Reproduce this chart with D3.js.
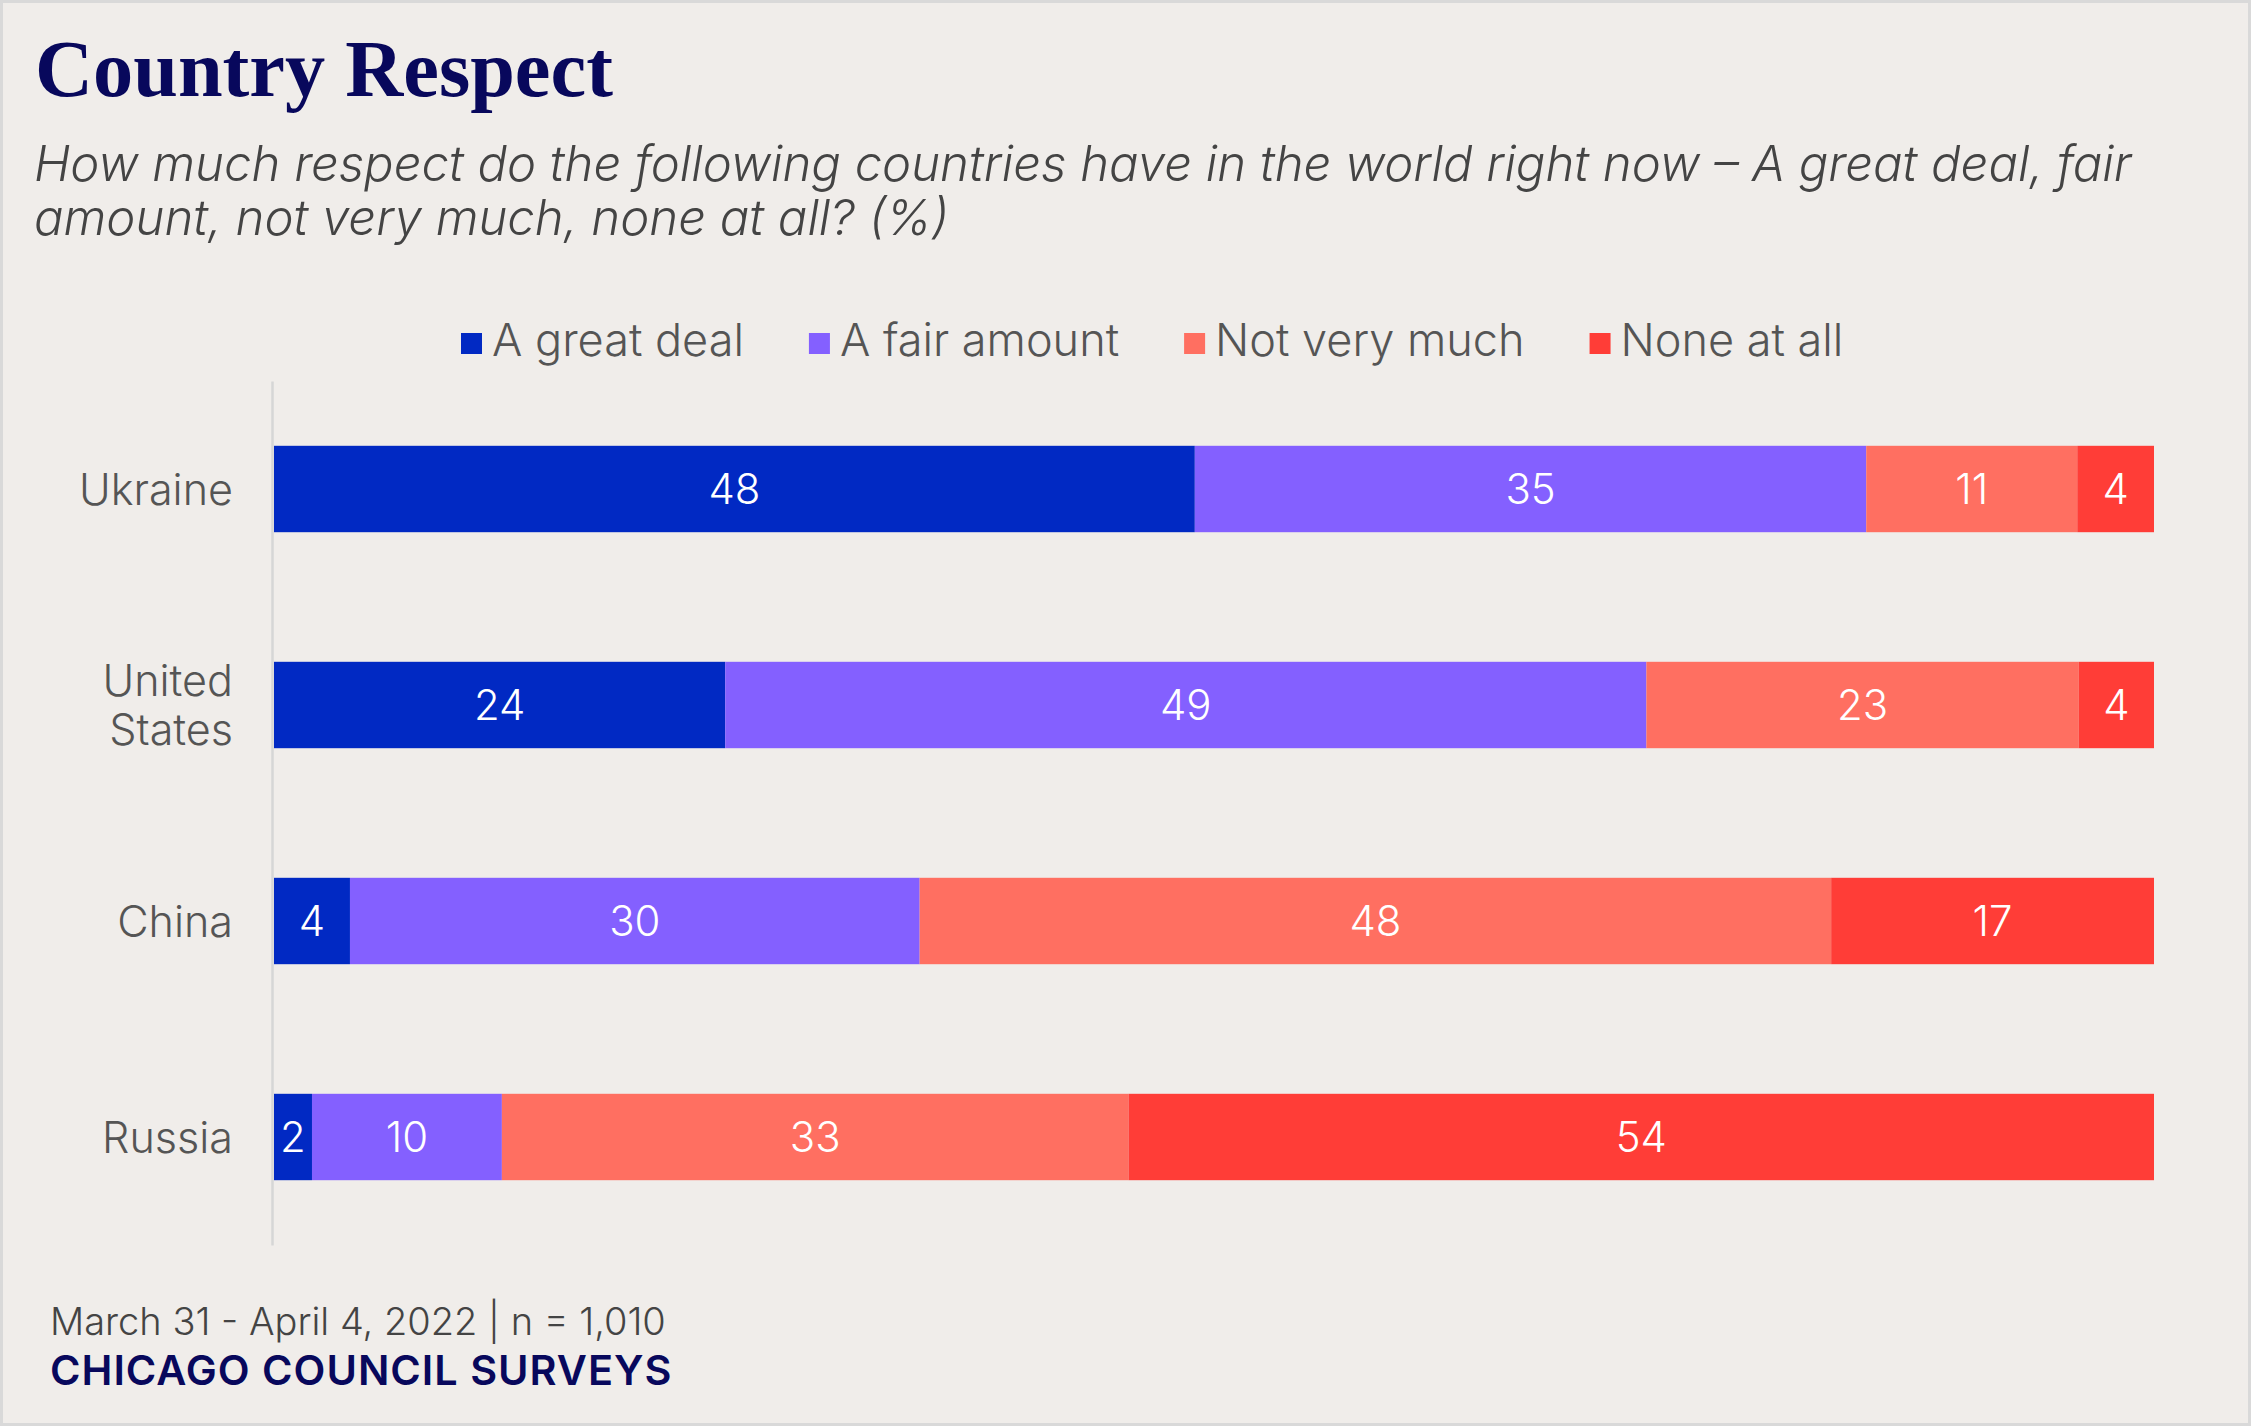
<!DOCTYPE html>
<html>
<head>
<meta charset="utf-8">
<script src="https://cdn.jsdelivr.net/npm/d3@7/dist/d3.min.js"></script>
<style>
  html, body { margin: 0; padding: 0; background: #f0edea; }
  svg { display: block; }
</style>
</head>
<body>
<svg id="chart" width="2251" height="1426"></svg>
<script>
// ---- Data ----
const categories = ["Ukraine", "United States", "China", "Russia"];
const seriesNames = ["A great deal", "A fair amount", "Not very much", "None at all"];
const greatDeal   = [48, 24, 4, 2];
const fairAmount  = [35, 49, 30, 10];
const notVeryMuch = [11, 23, 48, 33];
const noneAtAll   = [4, 4, 17, 54];
const seriesColors = ["#0129c3", "#8460ff", "#ff6f61", "#ff3d37"];

const titleText = "Country Respect";
const subtitleLines = [
  "How much respect do the following countries have in the world right now \u2013 A great deal, fair",
  "amount, not very much, none at all? (%)"
];
const noteText = "March 31 - April 4, 2022 | n = 1,010";
const sourceText = "CHICAGO COUNCIL SURVEYS";

// ---- Build table ----
const seriesValues = [greatDeal, fairAmount, notVeryMuch, noneAtAll];
const table = categories.map((c, i) => {
  const row = { category: c };
  seriesNames.forEach((s, j) => row[s] = seriesValues[j][i]);
  return row;
});

const W = 2251, H = 1426;
const svg = d3.select("#chart");
const SANS = "Inter, 'Open Sans', sans-serif";
const LIGHT = 300;

// background + border
svg.append("rect").attr("x", 1.5).attr("y", 1.5).attr("width", W - 3).attr("height", H - 3)
  .attr("fill", "#f0edea").attr("stroke", "#d9d9d9").attr("stroke-width", 3);

function fit(sel, target) {
  const fs = parseFloat(sel.attr("font-size"));
  const w = sel.node().getComputedTextLength();
  const nfs = fs * target / w;
  sel.attr("font-size", nfs);
  return nfs;
}

// Title
const title = svg.append("text").attr("x", 35).attr("y", 96)
  .attr("font-family", "'Liberation Serif', 'Times New Roman', serif")
  .attr("font-weight", 700).attr("font-size", 80).attr("fill", "#08085c")
  .text(titleText);
fit(title, 578);

// Subtitle
const sub1 = svg.append("text").attr("x", 34).attr("y", 181)
  .attr("font-family", SANS).attr("font-style", "italic").attr("font-weight", LIGHT)
  .attr("font-size", 44).attr("fill", "#444444").text(subtitleLines[0]);
const subFs = fit(sub1, 2098);
svg.append("text").attr("x", 34).attr("y", 235)
  .attr("font-family", SANS).attr("font-style", "italic").attr("font-weight", LIGHT)
  .attr("font-size", subFs).attr("fill", "#444444").text(subtitleLines[1]);

// Scales
const x = d3.scaleLinear().domain([0, 1]).range([274, 2154]);
const y = d3.scaleBand().domain(categories).range([381, 1245]).paddingInner(0.6).paddingOuter(0.3);
const color = d3.scaleOrdinal().domain(seriesNames).range(seriesColors);

// Legend
const legend = svg.append("g");
const tmp = legend.append("text").attr("font-family", SANS).attr("font-weight", LIGHT)
  .attr("font-size", 40).text(seriesNames[0]);
const legFs = fit(tmp, 252);
tmp.remove();
let lx = 461;
seriesNames.forEach(s => {
  legend.append("rect").attr("x", lx).attr("y", 333).attr("width", 21).attr("height", 21)
    .attr("fill", color(s));
  const t = legend.append("text").attr("x", lx + 31).attr("y", 356)
    .attr("font-family", SANS).attr("font-weight", LIGHT).attr("font-size", legFs)
    .attr("fill", "#555555").text(s);
  lx += 31 + t.node().getComputedTextLength() + 65;
});

// Stacked (normalized) bars
const stack = d3.stack().keys(seriesNames).offset(d3.stackOffsetExpand);
const layers = stack(table);

const gBars = svg.append("g");
layers.forEach(layer => {
  const g = gBars.append("g").attr("fill", color(layer.key));
  g.selectAll("rect").data(layer).join("rect")
    .attr("x", d => x(d[0]))
    .attr("y", d => y(d.data.category))
    .attr("width", d => x(d[1]) - x(d[0]))
    .attr("height", y.bandwidth());
});

// Value labels
const valFs = (() => {
  const t = svg.append("text").attr("font-family", SANS).attr("font-weight", LIGHT)
    .attr("font-size", 40).text("48");
  const f = fit(t, 52); t.remove(); return f;
})();
layers.forEach(layer => {
  svg.append("g").selectAll("text").data(layer).join("text")
    .attr("x", d => (x(d[0]) + x(d[1])) / 2)
    .attr("y", d => y(d.data.category) + y.bandwidth() / 2)
    .attr("dy", "0.36em")
    .attr("text-anchor", "middle")
    .attr("font-family", SANS).attr("font-weight", LIGHT)
    .attr("font-size", valFs).attr("fill", "#ffffff")
    .text(d => d.data[layer.key]);
});

// Y axis
const yAxis = d3.axisLeft(y).tickSize(0).tickPadding(40);
const gy = svg.append("g").attr("transform", "translate(272,0)").call(yAxis);
gy.select(".domain").attr("stroke", "#d6d6d6").attr("stroke-width", 2.5);
const catFs = (() => {
  const t = svg.append("text").attr("font-family", SANS).attr("font-weight", LIGHT)
    .attr("font-size", 40).text("Ukraine");
  const f = fit(t, 154); t.remove(); return f;
})();
gy.selectAll(".tick text").each(function(d) {
  const t = d3.select(this);
  t.text(null).attr("font-family", SANS).attr("font-weight", LIGHT)
    .attr("font-size", catFs).attr("fill", "#555555")
    .attr("text-anchor", "end").attr("x", -39).attr("dy", null);
  const words = d.split(" ");
  if (words.length > 1) {
    words.forEach((w, i) => {
      t.append("tspan").attr("x", -39).attr("y", (i === 0 ? -24.5 : 24.5)).attr("dy", "0.36em").text(w);
    });
  } else {
    t.attr("y", 0).attr("dy", "0.36em").text(d);
  }
});

// Footer
const note = svg.append("text").attr("x", 50).attr("y", 1335)
  .attr("font-family", SANS).attr("font-weight", LIGHT)
  .attr("font-size", 36).attr("fill", "#444444").text(noteText);
fit(note, 616);
const src = svg.append("text").attr("x", 50).attr("y", 1385)
  .attr("font-family", SANS).attr("font-weight", 600).attr("font-size", 36)
  .attr("letter-spacing", 1).attr("fill", "#08085c").text(sourceText);
fit(src, 626);
</script>
</body>
</html>
